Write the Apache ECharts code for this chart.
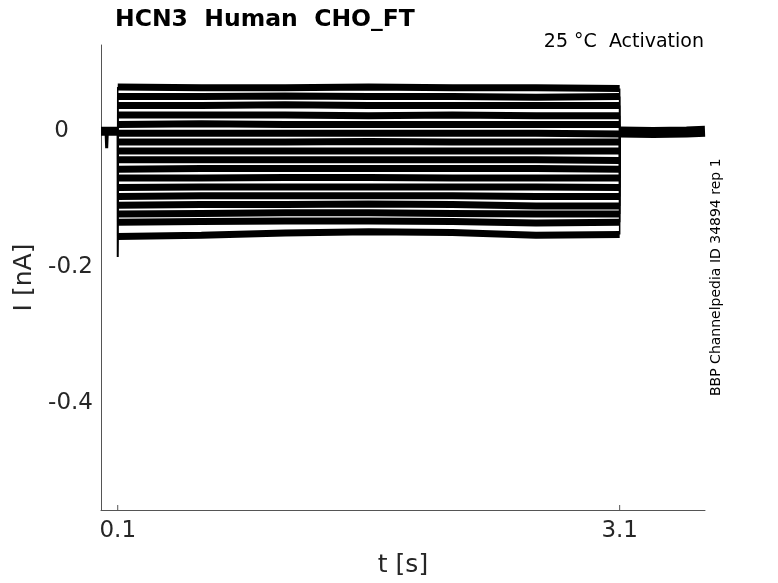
<!DOCTYPE html>
<html>
<head>
<meta charset="utf-8">
<script src="https://cdn.jsdelivr.net/npm/echarts@6/dist/echarts.min.js"></script>
<style>html,body{margin:0;padding:0;background:#fff;}#c{width:778px;height:583px;}</style>
</head>
<body>
<div id="c"></div>
<script>
// Sample times within the step (s)
var stepTimes = [0.1, 0.6, 1.1, 1.6, 2.1, 2.6, 3.1];
// Current level of each sweep at those times (nA)
var sweepLevels = [
  [0.065, 0.064, 0.064, 0.065, 0.064, 0.064, 0.063],
  [0.051, 0.051, 0.052, 0.051, 0.051, 0.050, 0.051],
  [0.038, 0.038, 0.039, 0.038, 0.038, 0.038, 0.038],
  [0.024, 0.024, 0.024, 0.023, 0.024, 0.023, 0.023],
  [0.010, 0.011, 0.010, 0.010, 0.010, 0.010, 0.010],
  [-0.003, -0.003, -0.003, -0.003, -0.003, -0.003, -0.004],
  [-0.016, -0.016, -0.016, -0.015, -0.016, -0.016, -0.016],
  [-0.029, -0.029, -0.029, -0.029, -0.029, -0.029, -0.029],
  [-0.042, -0.042, -0.042, -0.042, -0.042, -0.042, -0.043],
  [-0.056, -0.055, -0.055, -0.055, -0.055, -0.055, -0.056],
  [-0.069, -0.069, -0.068, -0.068, -0.069, -0.069, -0.069],
  [-0.083, -0.082, -0.082, -0.082, -0.082, -0.082, -0.083],
  [-0.096, -0.095, -0.095, -0.095, -0.095, -0.096, -0.096],
  [-0.109, -0.108, -0.108, -0.107, -0.108, -0.110, -0.110],
  [-0.122, -0.121, -0.120, -0.120, -0.121, -0.122, -0.122],
  [-0.134, -0.133, -0.132, -0.132, -0.133, -0.135, -0.134],
  [-0.155, -0.153, -0.150, -0.148, -0.149, -0.153, -0.152]
];
// Holding current before/after the step (nA)
var holdBeforeTimes = [0, 0.1];
var holdBefore = [0, 0];
var dipTimes = [0.03, 0.034, 0.038];
var dipValues = [0, -0.025, 0];
var holdAfterTimes = [3.1, 3.3, 3.5, 3.61];
var holdAfter = [-0.001, -0.002, -0.001, 0.0];
// Capacitive transient at step onset
var transientT = [0.1, 0.1, 0.101];
var transientV = [0, -0.185, -0.155];
// Axis ticks
var xTicks = [0.1, 3.1];
var yTicks = [0, -0.2, -0.4];
var xRange = [0, 3.61];
var yRange = [-0.5577, 0.127];

function line(d, w) {
  return {type: 'line', data: d, showSymbol: false, silent: true, animation: false,
    lineStyle: {color: '#000', width: w, cap: 'butt'}};
}
var series = [];
sweepLevels.forEach(function (lv) {
  var d = stepTimes.map(function (t, k) { return [t, lv[k]]; });
  series.push(line(d, 7));
  series.push(line([[stepTimes[0], 0], [stepTimes[0], lv[0]]], 1.5));
  series.push(line([[stepTimes[stepTimes.length - 1], lv[lv.length - 1]], [stepTimes[stepTimes.length - 1], 0]], 1.5));
});
series.push(line(holdBeforeTimes.map(function (t, k) { return [t, holdBefore[k]]; }), 9));
series.push(line(dipTimes.map(function (t, k) { return [t, dipValues[k]]; }), 3));
series.push(line(holdAfterTimes.map(function (t, k) { return [t, holdAfter[k]]; }), 11));
series.push(line(transientT.map(function (t, k) { return [t, transientV[k]]; }), 2));
// x-axis ticks drawn inward
series.push({type: 'custom', silent: true, animation: false, data: xTicks.map(function (t) { return [t]; }),
  renderItem: function (params, api) {
    var p = api.coord([api.value(0), yRange[0]]);
    return {type: 'line', shape: {x1: p[0], y1: p[1], x2: p[0], y2: p[1] - 5},
      style: {stroke: '#555', lineWidth: 1}};
  }});

var chart = echarts.init(document.getElementById('c'), null, {renderer: 'canvas'});
var font = 'DejaVu Sans';
chart.setOption({
  backgroundColor: '#fff',
  animation: false,
  title: {text: 'HCN3  Human  CHO_FT', left: 110, top: 3,
    textStyle: {fontFamily: font, fontWeight: 'bold', fontSize: 23.5, color: '#000'}},
  grid: {left: 101, right: 73, top: 45, bottom: 57, containLabel: false},
  xAxis: {type: 'value', min: xRange[0], max: xRange[1],
    name: 't [s]', nameLocation: 'middle', nameGap: 43,
    nameTextStyle: {fontFamily: font, fontSize: 25, color: '#262626'},
    axisLine: {show: true, onZero: false, lineStyle: {color: '#555', width: 1}},
    axisTick: {show: false},
    axisLabel: {customValues: xTicks, fontFamily: font, fontSize: 23, color: '#262626', margin: 10,
      formatter: function (v) { return v.toFixed(1); }},
    splitLine: {show: false}},
  yAxis: {type: 'value', min: yRange[0], max: yRange[1],
    name: 'I [nA]', nameLocation: 'middle', nameGap: 51, nameRotate: 90,
    nameTextStyle: {fontFamily: font, fontSize: 25, color: '#262626'},
    axisLine: {show: true, onZero: false, lineStyle: {color: '#555', width: 1}},
    axisTick: {show: false},
    axisLabel: {customValues: yTicks, fontFamily: font, fontSize: 23, color: '#262626', margin: 8,
      formatter: function (v) { return v === 0 ? '{z|0}' : v.toFixed(1); },
      rich: {z: {fontFamily: font, fontSize: 23, color: '#262626', padding: [0, 24, 0, 0]}}},
    splitLine: {show: false}},
  graphic: [
    {type: 'text', right: 74, top: 33, style: {text: '25 °C  Activation', fontFamily: font, fontSize: 19, fill: '#000'}},
    {type: 'text', x: 709, y: 396, rotation: Math.PI / 2,
      style: {text: 'BBP Channelpedia ID 34894 rep 1', fontFamily: font, fontSize: 14, fill: '#000'}}
  ],
  series: series
});
</script>
</body>
</html>
